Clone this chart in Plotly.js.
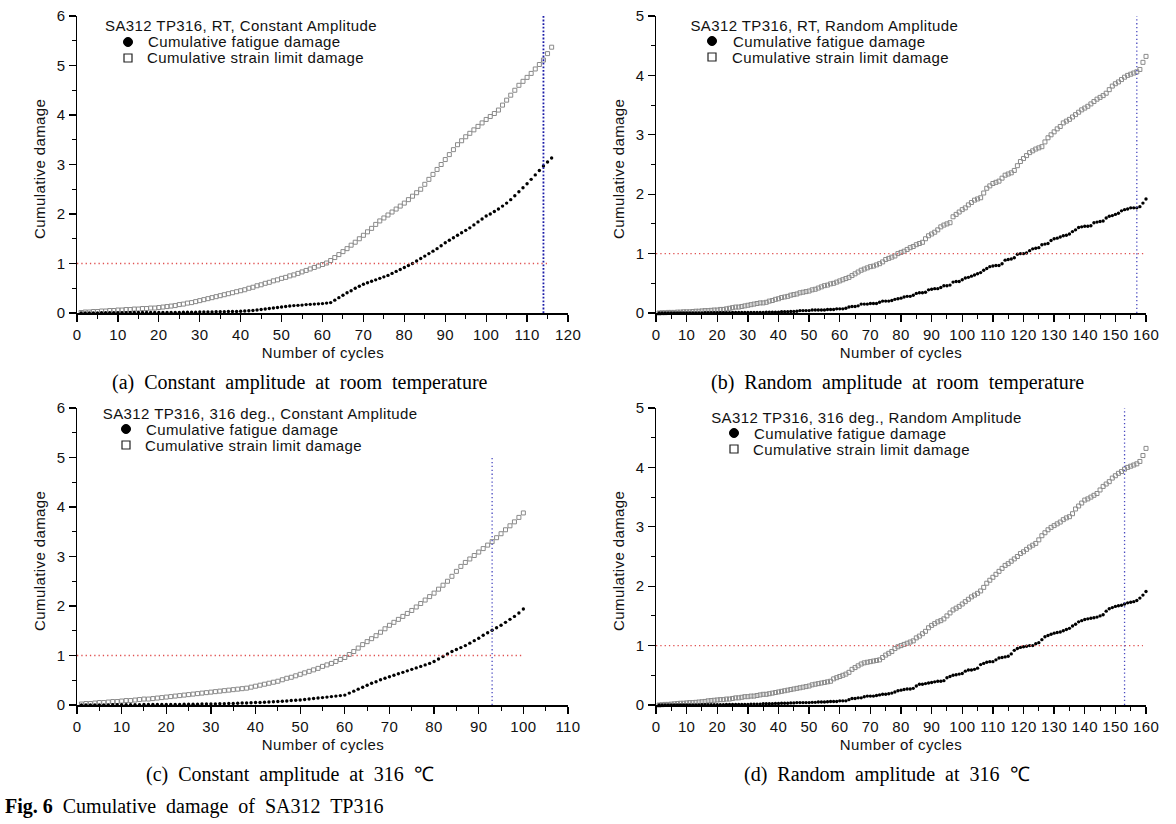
<!DOCTYPE html>
<html><head><meta charset="utf-8">
<script src="https://cdn.plot.ly/plotly-3.0.1.min.js"></script>
<style>
html,body{margin:0;padding:0;background:#fff;} #chart{width:1176px;height:824px;}
#chart text[style*="Liberation Sans"]{letter-spacing:0.4px;}
</style>
</head><body><div id="chart"></div>
<script>
// ---------- DATA ----------
// (a) constant amplitude, room temperature, cycles 1..116
const fatigueA = [0,0,0,0,0,0.005,0.005,0.005,0.005,0.005,
0.005,0.005,0.01,0.01,0.01,0.01,0.01,0.01,0.01,0.01,
0.01,0.01,0.01,0.01,0.01,0.015,0.015,0.015,0.015,0.02,
0.02,0.02,0.02,0.025,0.025,0.025,0.03,0.03,0.03,0.035,
0.04,0.045,0.05,0.06,0.07,0.08,0.09,0.1,0.11,0.12,
0.13,0.14,0.15,0.155,0.16,0.17,0.175,0.18,0.185,0.19,
0.2,0.21,0.26,0.31,0.36,0.41,0.45,0.5,0.54,0.58,
0.61,0.64,0.67,0.7,0.73,0.76,0.8,0.84,0.88,0.92,
0.96,1.0,1.05,1.1,1.15,1.2,1.25,1.3,1.36,1.42,
1.47,1.52,1.57,1.62,1.67,1.72,1.78,1.84,1.9,1.96,
2.0,2.05,2.1,2.16,2.22,2.29,2.37,2.45,2.53,2.61,
2.7,2.79,2.88,2.97,3.05,3.13];
const strainA = [0.01,0.02,0.02,0.03,0.03,0.04,0.04,0.05,0.05,0.06,
0.06,0.07,0.07,0.08,0.08,0.09,0.09,0.1,0.1,0.11,
0.12,0.13,0.14,0.15,0.17,0.18,0.2,0.21,0.23,0.25,
0.27,0.29,0.31,0.33,0.35,0.37,0.39,0.41,0.43,0.45,
0.47,0.5,0.52,0.55,0.57,0.6,0.62,0.65,0.67,0.7,
0.72,0.75,0.77,0.8,0.83,0.86,0.89,0.92,0.95,0.98,
1.01,1.06,1.12,1.18,1.24,1.3,1.37,1.43,1.5,1.57,
1.64,1.71,1.79,1.86,1.92,1.98,2.04,2.1,2.16,2.22,
2.29,2.36,2.43,2.5,2.6,2.7,2.8,2.9,3.0,3.1,
3.2,3.3,3.4,3.48,3.56,3.63,3.7,3.77,3.84,3.91,
3.97,4.03,4.1,4.2,4.3,4.4,4.5,4.6,4.68,4.76,
4.84,4.93,5.02,5.11,5.24,5.37];
// (b) random amplitude, room temperature, cycles 1..160
const fatigueB = [0,0,0,0,0,0,0,0,0,0,
0,0,0,0,0,0.005,0.005,0.005,0.005,0.005,
0.005,0.005,0.005,0.005,0.01,0.01,0.01,0.01,0.01,0.01,
0.01,0.01,0.01,0.01,0.01,0.015,0.015,0.015,0.015,0.015,
0.02,0.02,0.02,0.025,0.025,0.03,0.04,0.04,0.04,0.04,
0.05,0.05,0.05,0.05,0.05,0.06,0.06,0.06,0.07,0.07,
0.07,0.08,0.1,0.11,0.11,0.12,0.15,0.15,0.15,0.16,
0.16,0.16,0.18,0.2,0.2,0.2,0.21,0.23,0.24,0.25,
0.27,0.28,0.28,0.3,0.33,0.34,0.34,0.35,0.39,0.4,
0.41,0.41,0.43,0.46,0.46,0.47,0.52,0.53,0.53,0.56,
0.59,0.6,0.62,0.64,0.66,0.68,0.72,0.75,0.78,0.79,
0.8,0.8,0.83,0.89,0.9,0.91,0.93,0.99,1.0,1.0,
1.01,1.05,1.08,1.09,1.1,1.15,1.16,1.17,1.22,1.25,
1.26,1.28,1.3,1.31,1.33,1.37,1.4,1.44,1.45,1.46,
1.46,1.47,1.52,1.53,1.54,1.55,1.6,1.63,1.64,1.66,
1.68,1.72,1.74,1.75,1.77,1.77,1.77,1.79,1.85,1.92];
const strainB = [0,0.005,0.005,0.01,0.01,0.01,0.015,0.015,0.02,0.02,
0.02,0.025,0.03,0.03,0.035,0.04,0.04,0.045,0.05,0.05,
0.06,0.06,0.07,0.08,0.09,0.1,0.1,0.11,0.12,0.13,
0.14,0.15,0.16,0.17,0.17,0.18,0.2,0.21,0.23,0.24,
0.26,0.27,0.28,0.3,0.31,0.32,0.34,0.35,0.36,0.37,
0.39,0.4,0.42,0.44,0.46,0.47,0.49,0.5,0.52,0.54,
0.56,0.58,0.6,0.63,0.66,0.69,0.72,0.74,0.76,0.78,
0.79,0.81,0.83,0.86,0.9,0.92,0.94,0.96,1.0,1.02,
1.04,1.07,1.1,1.12,1.15,1.17,1.19,1.25,1.3,1.33,
1.36,1.4,1.45,1.48,1.5,1.52,1.62,1.66,1.7,1.74,
1.77,1.82,1.86,1.9,1.92,1.94,2.02,2.1,2.14,2.18,
2.2,2.22,2.27,2.32,2.34,2.36,2.4,2.48,2.55,2.6,
2.65,2.7,2.73,2.76,2.78,2.8,2.88,2.95,3.0,3.05,
3.1,3.14,3.2,3.23,3.26,3.3,3.34,3.38,3.42,3.45,
3.48,3.52,3.56,3.6,3.63,3.66,3.7,3.76,3.82,3.86,
3.89,3.93,3.97,4.0,4.02,4.04,4.06,4.1,4.22,4.32];
// (c) constant amplitude, 316 deg C, cycles 1..100
const fatigueC = [0,0,0,0,0,0,0,0.005,0.005,0.005,
0.005,0.005,0.005,0.005,0.01,0.01,0.01,0.01,0.01,0.01,
0.01,0.01,0.01,0.015,0.015,0.015,0.015,0.02,0.02,0.02,
0.02,0.025,0.025,0.03,0.03,0.035,0.04,0.04,0.045,0.05,
0.05,0.055,0.06,0.065,0.07,0.075,0.08,0.09,0.095,0.1,
0.11,0.12,0.13,0.14,0.15,0.16,0.17,0.18,0.19,0.2,
0.24,0.28,0.32,0.36,0.4,0.44,0.47,0.51,0.54,0.57,
0.6,0.63,0.66,0.69,0.72,0.75,0.78,0.81,0.84,0.88,
0.93,0.98,1.03,1.08,1.12,1.16,1.2,1.25,1.3,1.35,
1.41,1.46,1.51,1.56,1.61,1.67,1.73,1.79,1.86,1.94];
const strainC = [0.02,0.03,0.03,0.04,0.05,0.05,0.06,0.07,0.07,0.08,
0.09,0.09,0.1,0.11,0.12,0.12,0.13,0.14,0.15,0.16,
0.17,0.18,0.19,0.2,0.21,0.22,0.23,0.24,0.25,0.26,
0.27,0.28,0.29,0.3,0.31,0.32,0.33,0.34,0.36,0.38,
0.4,0.42,0.44,0.46,0.48,0.51,0.54,0.56,0.59,0.62,
0.65,0.68,0.71,0.74,0.78,0.81,0.84,0.88,0.92,0.96,
1.02,1.08,1.15,1.22,1.28,1.34,1.4,1.47,1.54,1.61,
1.67,1.73,1.79,1.85,1.91,1.98,2.05,2.12,2.19,2.26,
2.34,2.42,2.5,2.6,2.7,2.8,2.88,2.95,3.02,3.09,
3.16,3.23,3.3,3.38,3.46,3.54,3.62,3.7,3.79,3.88];
// (d) random amplitude, 316 deg C, cycles 1..160
const fatigueD = [0,0,0,0,0,0,0,0,0,0,
0,0,0,0,0.005,0.005,0.005,0.005,0.005,0.005,
0.005,0.005,0.01,0.01,0.01,0.01,0.01,0.01,0.01,0.01,
0.015,0.015,0.015,0.015,0.02,0.02,0.02,0.02,0.025,0.025,
0.03,0.03,0.03,0.035,0.035,0.04,0.04,0.04,0.04,0.04,
0.045,0.045,0.05,0.05,0.05,0.055,0.06,0.06,0.06,0.07,
0.07,0.07,0.09,0.11,0.11,0.12,0.12,0.14,0.15,0.15,
0.15,0.16,0.17,0.18,0.18,0.19,0.2,0.22,0.24,0.25,
0.26,0.27,0.27,0.28,0.32,0.35,0.35,0.36,0.37,0.38,
0.39,0.4,0.4,0.41,0.46,0.48,0.5,0.51,0.52,0.53,
0.57,0.59,0.59,0.6,0.62,0.68,0.7,0.72,0.73,0.73,
0.76,0.79,0.8,0.81,0.82,0.86,0.92,0.95,0.97,0.98,
0.99,1.0,1.0,1.03,1.05,1.1,1.15,1.17,1.19,1.21,
1.22,1.23,1.25,1.27,1.29,1.33,1.36,1.4,1.42,1.44,
1.45,1.46,1.47,1.48,1.5,1.52,1.58,1.62,1.64,1.66,
1.67,1.68,1.7,1.72,1.73,1.74,1.76,1.8,1.85,1.91];
const strainD = [0,0.005,0.01,0.01,0.015,0.02,0.025,0.03,0.03,0.035,
0.04,0.04,0.045,0.05,0.055,0.06,0.07,0.075,0.08,0.085,
0.09,0.09,0.1,0.1,0.11,0.12,0.12,0.13,0.14,0.14,
0.15,0.15,0.16,0.17,0.18,0.18,0.19,0.2,0.21,0.22,
0.23,0.24,0.25,0.26,0.27,0.28,0.29,0.3,0.31,0.32,
0.34,0.35,0.36,0.37,0.38,0.39,0.4,0.44,0.46,0.48,
0.5,0.52,0.55,0.6,0.63,0.66,0.69,0.71,0.72,0.73,
0.74,0.75,0.76,0.8,0.84,0.87,0.9,0.95,0.98,1.0,
1.02,1.04,1.06,1.08,1.13,1.16,1.2,1.24,1.3,1.34,
1.37,1.4,1.42,1.45,1.5,1.55,1.6,1.63,1.66,1.7,
1.74,1.78,1.82,1.85,1.88,1.92,1.98,2.05,2.1,2.15,
2.2,2.25,2.3,2.35,2.38,2.42,2.46,2.5,2.55,2.58,
2.62,2.66,2.69,2.72,2.78,2.85,2.9,2.95,2.99,3.02,
3.05,3.08,3.12,3.15,3.17,3.22,3.3,3.35,3.4,3.45,
3.47,3.5,3.53,3.56,3.62,3.68,3.72,3.76,3.82,3.86,
3.9,3.93,3.97,4.0,4.02,4.04,4.06,4.1,4.2,4.32];

// limit lines
const limitCycle = [114, 157, 93, 153];     // vertical blue dotted line (cycles)
const limitCycleTop = [6, 5, 5, 5];         // its upper end (damage)
const damageOneEnd = [115, 160, 100, 159];  // horizontal D=1 line ends (cycles)
const damageOne = 1;

// axis settings
const xMax = [120, 160, 110, 160];
const yMax = [6, 5, 6, 5];
const xTick = 10, xMinor = 5, yTick = 1, yMinor = 0.5;

// texts
const legendTitles = ["SA312 TP316, RT, Constant Amplitude", "SA312 TP316, RT, Random Amplitude",
  "SA312 TP316, 316 deg., Constant Amplitude", "SA312 TP316, 316 deg., Random Amplitude"];
const seriesNames = ["Cumulative fatigue damage", "Cumulative strain limit damage"];
const xTitle = "Number of cycles", yTitle = "Cumulative damage";
const captions = ["(a)  Constant  amplitude  at  room  temperature", "(b)  Random  amplitude  at  room  temperature",
  "(c)  Constant  amplitude  at  316  \u2103", "(d)  Random  amplitude  at  316  \u2103"];
const figCaptionBold = "Fig. 6", figCaptionRest = "  Cumulative  damage  of  SA312  TP316";

const fatigue = [fatigueA, fatigueB, fatigueC, fatigueD];
const strain = [strainA, strainB, strainC, strainD];

// ---------- LAYOUT ----------
const W = 1176, H = 824;
const px = v => v / W, py = v => 1 - v / H;
const boxes = [ // [left, right, top, bottom] in pixels
  [77, 568, 16, 313], [656, 1146, 16, 313], [77, 568, 408, 705], [656, 1146, 408, 705]];
const legendPos = [ // title x,y ; marker x ; row1 y ; row2 y ; text x
  {tx:110, ty:26, mx:128, r1:42, r2:58, txt:151},
  {tx:695, ty:25, mx:712, r1:41, r2:57, txt:736},
  {tx:109, ty:413, mx:126, r1:429, r2:445, txt:149},
  {tx:717, ty:417, mx:734, r1:433, r2:449, txt:757}];
const capPos = [[300, 382], [897, 382], [290, 774], [887, 774]];

const SANS = "Liberation Sans, Arial, sans-serif";
const SERIF = "Liberation Serif, Times New Roman, serif";

const traces = [];
const layout = {
  width: W, height: H, margin: {l:0, r:0, t:0, b:0},
  paper_bgcolor: '#fff', plot_bgcolor: 'rgba(0,0,0,0)',
  showlegend: false, annotations: [], shapes: []
};

for (let p = 0; p < 4; p++) {
  const sfx = p === 0 ? '' : String(p + 1);
  const xa = 'x' + sfx, ya = 'y' + sfx;
  const b = boxes[p];
  const cyc = fatigue[p].map((_, i) => i + 1);
  traces.push({type:'scatter', mode:'markers', x: cyc, y: strain[p], xaxis: xa, yaxis: ya, cliponaxis:false,
    marker:{symbol:'square-open', size:4, color:'#8a8a8a', line:{width:1, color:'#8a8a8a'}}, name: seriesNames[1]});
  traces.push({type:'scatter', mode:'markers', x: cyc, y: fatigue[p], xaxis: xa, yaxis: ya, cliponaxis:false,
    marker:{symbol:'circle', size:3.4, color:'#000'}, name: seriesNames[0]});
  traces.push({type:'scatter', mode:'lines', x:[0, damageOneEnd[p]], y:[damageOne, damageOne], xaxis: xa, yaxis: ya,
    cliponaxis:false, line:{color:'#e05252', width:1.3, dash:'1.3px,3px'}, hoverinfo:'skip'});
  traces.push({type:'scatter', mode:'lines', x:[limitCycle[p], limitCycle[p]], y:[0, limitCycleTop[p]], xaxis: xa, yaxis: ya,
    cliponaxis:false, line:{color: p === 0 ? '#1c1ca8' : '#4a4ac0', width: p === 0 ? 1.8 : 1.3,
    dash: p === 0 ? '1.8px,1.8px' : '1.3px,2.6px'}, hoverinfo:'skip'});

  const common = {showline:true, linecolor:'#000', linewidth:1.5, ticks:'outside', tickcolor:'#000', tickwidth:1.3,
    ticklen:7, showgrid:false, zeroline:false, tick0:0, tickangle:0,
    tickfont:{family:SANS, size:15, color:'#111'}};
  layout['xaxis' + sfx] = Object.assign({}, common, {
    domain:[px(b[0]), px(b[1])], range:[0, xMax[p]], dtick:xTick, anchor: ya,
    minor:{dtick:xMinor, ticks:'outside', ticklen:4, tickcolor:'#000', tickwidth:1, showgrid:false}});
  layout['yaxis' + sfx] = Object.assign({}, common, {
    domain:[py(b[3]), py(b[2])], range:[0, yMax[p]], dtick:yTick, anchor: xa,
    minor:{dtick:yMinor, ticks:'outside', ticklen:4, tickcolor:'#000', tickwidth:1, showgrid:false}});

  // axis titles
  layout.annotations.push({xref:'paper', yref:'paper', x:px((b[0] + b[1]) / 2), y:py(b[3] + 39),
    text:xTitle, showarrow:false, xanchor:'center', yanchor:'middle', font:{family:SANS, size:15, color:'#111'}});
  layout.annotations.push({xref:'paper', yref:'paper', x:px(b[0] - 38), y:py((b[2] + b[3]) / 2 + 5),
    text:yTitle, textangle:-90, showarrow:false, xanchor:'center', yanchor:'middle', font:{family:SANS, size:15, color:'#111'}});

  // legend block
  const L = legendPos[p];
  layout.annotations.push({xref:'paper', yref:'paper', x:px(L.tx), y:py(L.ty), text:legendTitles[p], showarrow:false,
    xanchor:'left', yanchor:'middle', font:{family:SANS, size:15, color:'#111'}});
  layout.annotations.push({xref:'paper', yref:'paper', x:px(L.txt), y:py(L.r1), text:seriesNames[0], showarrow:false,
    xanchor:'left', yanchor:'middle', font:{family:SANS, size:15, color:'#111'}});
  layout.annotations.push({xref:'paper', yref:'paper', x:px(L.txt), y:py(L.r2), text:seriesNames[1], showarrow:false,
    xanchor:'left', yanchor:'middle', font:{family:SANS, size:15, color:'#111'}});
  layout.shapes.push({type:'circle', xref:'paper', yref:'paper', x0:px(L.mx - 4.5), x1:px(L.mx + 4.5),
    y0:py(L.r1 + 4.5), y1:py(L.r1 - 4.5), fillcolor:'#000', line:{color:'#000', width:1}});
  layout.shapes.push({type:'rect', xref:'paper', yref:'paper', x0:px(L.mx - 4), x1:px(L.mx + 4),
    y0:py(L.r2 + 4), y1:py(L.r2 - 4), fillcolor:'rgba(0,0,0,0)', line:{color:'#222', width:1.2}});

  // caption
  layout.annotations.push({xref:'paper', yref:'paper', x:px(capPos[p][0]), y:py(capPos[p][1]), text:captions[p],
    showarrow:false, xanchor:'center', yanchor:'middle', font:{family:SERIF, size:20, color:'#000'}});
}
layout.annotations.push({xref:'paper', yref:'paper', x:px(3), y:py(806),
  text:'<b>' + figCaptionBold + '</b>' + figCaptionRest, showarrow:false, xanchor:'left', yanchor:'middle',
  font:{family:SERIF, size:20, color:'#000'}});

Plotly.newPlot('chart', traces, layout, {staticPlot:true, displayModeBar:false});
</script>
</body></html>
